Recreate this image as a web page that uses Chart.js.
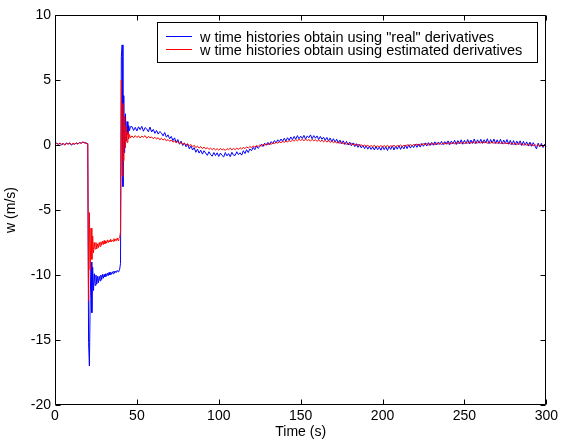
<!DOCTYPE html>
<html>
<head>
<meta charset="utf-8">
<title>w time histories</title>
<script src="https://cdn.jsdelivr.net/npm/chart.js@4.4.1/dist/chart.umd.min.js"></script>
<style>
  html, body { margin: 0; padding: 0; background: #fff; }
  #wChart { display: block; }
</style>
</head>
<body>
<canvas id="wChart" width="561" height="443"></canvas>
<script>
// ============================
// Data
// ============================
const seriesLabels = [
  'w time histories obtain using "real" derivatives',
  "w time histories obtain using estimated derivatives"
];

const xTicks = [0, 50, 100, 150, 200, 250, 300];
const yTicks = [-20, -15, -10, -5, 0, 5, 10];

// sampling grid: 1 s before the manoeuvre, 0.5 s through it, 1 s after
const timePre = [0, 1, 2, 3, 4, 5, 6, 7, 8, 9, 10, 11, 12, 13, 14, 15, 16, 17, 18, 19];
const timeTrans = [];
for (let t = 20; t <= 46; t += 0.5) timeTrans.push(t);
const timePost = [];
for (let t = 47; t <= 300; t++) timePost.push(t);

// "real" derivatives (blue)
const wRealPre = [0.10, 0.14, 0.06, 0.12, 0.02, 0.10, 0.04, 0.14, 0.08, 0.12,
  0.00, 0.10, 0.06, 0.16, 0.10, 0.18, 0.14, 0.22, 0.18, 0.16];
const wRealTrans = [
  0.10, -15.2, -17.0, -11.8, -9.0, -12.9, -9.4, -11.2, -9.9, -10.8,
  -10.0, -10.7, -10.1, -10.6, -10.1, -10.45, -10.0, -10.35, -9.95, -10.25,
  -9.95, -10.15, -9.9, -10.1, -9.85, -10.05, -9.8, -10.0, -9.8, -9.95,
  -9.75, -9.9, -9.7, -9.85, -9.7, -9.8, -9.65, -9.75, -9.7, -9.55,
  -9.1, 6.8, 7.7, -3.2, 3.8, -0.6, 2.4, 0.3, 1.8, 0.8,
  1.5, 1.1, 1.4];
const wRealPost = [
  1.42, 1.12, 1.36,
  1.08, 1.40, 1.18, 1.44, 1.06, 1.34, 1.24, 1.02, 1.38, 1.00,
  1.20, 0.90, 1.12, 0.84, 1.04, 0.92, 0.70, 0.96, 0.60, 0.78,
  0.48, 0.66, 0.34, 0.55, 0.20, 0.42, 0.06, 0.30, -0.04, 0.16,
  -0.14, 0.06, -0.30, -0.08, -0.38, -0.20, -0.56, -0.32, -0.62, -0.40,
  -0.70, -0.44, -0.62, -0.80, -0.52, -0.74, -0.86, -0.58, -0.82, -0.60,
  -0.88, -0.62, -0.80, -0.92, -0.58, -0.84, -0.66, -0.90, -0.56, -0.78,
  -0.80, -0.52, -0.74, -0.60, -0.78, -0.44, -0.66, -0.36, -0.58, -0.30,
  -0.44, -0.18, -0.36, -0.08, -0.26, -0.14, 0.06, -0.12, 0.14, -0.02,
  0.20, 0.02, 0.26, 0.10, 0.34, 0.16, 0.40, 0.24, 0.46, 0.28,
  0.52, 0.30, 0.56, 0.36, 0.62, 0.40, 0.66, 0.44, 0.72, 0.48,
  0.68, 0.50, 0.74, 0.46, 0.70, 0.56, 0.78, 0.48, 0.72, 0.52,
  0.70, 0.42, 0.66, 0.44, 0.60, 0.36, 0.58, 0.30, 0.54, 0.26,
  0.48, 0.22, 0.44, 0.14, 0.38, 0.10, 0.32, 0.04, 0.28, 0.00,
  0.22, -0.06, 0.16, -0.12, 0.10, -0.18, 0.04, -0.22, -0.02, -0.28,
  -0.06, -0.32, -0.10, -0.34, -0.14, -0.38, -0.12, -0.36, -0.16, -0.40,
  -0.10, -0.36, -0.14, -0.42, -0.12, -0.34, -0.06, -0.38, -0.10, -0.32,
  -0.04, -0.34, -0.08, -0.30, -0.02, -0.28, 0.02, -0.24, 0.00, -0.20,
  0.06, -0.18, 0.08, -0.16, 0.12, -0.10, 0.16, -0.08, 0.18, -0.04,
  0.20, -0.02, 0.24, 0.00, 0.22, 0.04, 0.28, 0.02, 0.26, 0.06,
  0.32, 0.02, 0.30, 0.08, 0.36, 0.04, 0.34, 0.10, 0.40, 0.06,
  0.36, 0.10, 0.42, 0.08, 0.38, 0.12, 0.46, 0.10, 0.40, 0.14,
  0.44, 0.12, 0.40, 0.16, 0.48, 0.10, 0.42, 0.14, 0.46, 0.12,
  0.40, 0.10, 0.44, 0.08, 0.38, 0.12, 0.42, 0.06, 0.36, 0.02,
  0.34, 0.00, 0.30, 0.04, 0.32, -0.04, 0.28, -0.02, 0.24, -0.08,
  0.22, -0.10, 0.18, -0.06, -0.30, 0.14, -0.14, 0.12, -0.20, 0.06,
  -0.16];

// estimated derivatives (red)
const wEstPre = [0.08, 0.12, 0.04, 0.16, 0.06, 0.12, -0.02, 0.14, 0.06, 0.18,
  0.02, 0.12, 0.08, 0.14, 0.06, 0.20, 0.12, 0.24, 0.16, 0.12];
const wEstTrans = [
  0.10, -12.0, -5.2, -9.6, -6.4, -8.8, -7.0, -8.3, -7.5, -8.0,
  -7.5, -8.0, -7.6, -7.9, -7.5, -7.8, -7.45, -7.7, -7.4, -7.65,
  -7.35, -7.6, -7.4, -7.55, -7.3, -7.5, -7.35, -7.45, -7.25, -7.45,
  -7.3, -7.4, -7.2, -7.4, -7.25, -7.35, -7.15, -7.35, -7.2, -7.1,
  -6.7, 5.0, -2.4, 3.2, -1.2, 2.2, -0.2, 1.4, 0.2, 1.0,
  0.45, 0.8, 0.55];
const wEstPost = [
  0.70, 0.56, 0.72,
  0.58, 0.70, 0.54, 0.68, 0.60, 0.72, 0.52, 0.66, 0.56, 0.62,
  0.48, 0.60, 0.46, 0.56, 0.40, 0.52, 0.38, 0.48, 0.32, 0.42,
  0.28, 0.38, 0.22, 0.32, 0.16, 0.28, 0.10, 0.20, 0.04, 0.14,
  0.00, 0.10, -0.08, 0.04, -0.14, -0.02, -0.20, -0.08, -0.24, -0.12,
  -0.28, -0.16, -0.30, -0.20, -0.34, -0.24, -0.36, -0.26, -0.38, -0.28,
  -0.40, -0.26, -0.38, -0.30, -0.42, -0.28, -0.36, -0.24, -0.38, -0.26,
  -0.36, -0.24, -0.34, -0.20, -0.32, -0.18, -0.28, -0.14, -0.24, -0.12,
  -0.20, -0.08, -0.16, -0.04, -0.12, 0.00, -0.08, 0.04, -0.02, 0.08,
  0.02, 0.12, 0.06, 0.16, 0.10, 0.20, 0.14, 0.24, 0.18, 0.28,
  0.20, 0.30, 0.24, 0.34, 0.26, 0.38, 0.30, 0.42, 0.32, 0.44,
  0.34, 0.44, 0.32, 0.46, 0.34, 0.42, 0.30, 0.44, 0.32, 0.40,
  0.28, 0.40, 0.26, 0.38, 0.24, 0.36, 0.22, 0.34, 0.20, 0.30,
  0.18, 0.28, 0.14, 0.24, 0.12, 0.22, 0.08, 0.18, 0.06, 0.14,
  0.02, 0.12, 0.00, 0.08, -0.04, 0.06, -0.06, 0.02, -0.10, 0.00,
  -0.10, -0.02, -0.14, -0.04, -0.12, -0.02, -0.16, -0.06, -0.14, -0.04,
  -0.16, -0.04, -0.14, -0.02, -0.16, -0.06, -0.12, -0.02, -0.14, -0.04,
  -0.10, 0.00, -0.12, -0.02, -0.08, 0.02, -0.06, 0.04, -0.06, 0.04,
  -0.02, 0.08, -0.04, 0.08, 0.00, 0.10, 0.02, 0.12, 0.00, 0.12,
  0.04, 0.14, 0.02, 0.14, 0.06, 0.16, 0.04, 0.16, 0.08, 0.18,
  0.06, 0.18, 0.10, 0.20, 0.08, 0.22, 0.10, 0.20, 0.12, 0.24,
  0.10, 0.22, 0.14, 0.24, 0.12, 0.26, 0.14, 0.24, 0.16, 0.26,
  0.14, 0.26, 0.16, 0.24, 0.12, 0.26, 0.14, 0.24, 0.12, 0.22,
  0.12, 0.24, 0.10, 0.22, 0.08, 0.20, 0.08, 0.18, 0.06, 0.18,
  0.04, 0.16, 0.02, 0.14, 0.04, 0.12, 0.00, 0.10, -0.02, 0.08,
  -0.04, 0.06, -0.06, 0.04, -0.08, 0.02, -0.10, 0.00, -0.12, -0.02,
  -0.10];

const time = timePre.concat(timeTrans, timePost);
const wReal = wRealPre.concat(wRealTrans, wRealPost);
const wEst = wEstPre.concat(wEstTrans, wEstPost);

const toPoints = (ys) => time.map((t, i) => ({ x: t, y: ys[i] }));

const FONT = "Liberation Sans, Arial, sans-serif";

// ============================
// Matlab style box, inward ticks and legend
// ============================
const matlabFrame = {
  id: "matlabFrame",
  afterDatasetsDraw(chart) {
    const { ctx, chartArea: a, scales } = chart;
    const L = Math.round(a.left) + 0.5, R = Math.round(a.right) - 0.5;
    const T = Math.round(a.top) + 0.5, B = Math.round(a.bottom) - 0.5;
    const len = 5;
    ctx.save();
    ctx.strokeStyle = "#000";
    ctx.lineWidth = 1;
    ctx.beginPath();
    ctx.rect(L, T, R - L, B - T);
    xTicks.forEach(v => {
      const px = Math.round(scales.x.getPixelForValue(v)) + 0.5;
      ctx.moveTo(px, B); ctx.lineTo(px, B - len);
      ctx.moveTo(px, T); ctx.lineTo(px, T + len);
    });
    yTicks.forEach(v => {
      const py = Math.round(scales.y.getPixelForValue(v)) + 0.5;
      ctx.moveTo(L, py); ctx.lineTo(L + len, py);
      ctx.moveTo(R, py); ctx.lineTo(R - len, py);
    });
    ctx.stroke();
    ctx.restore();
  },
  afterDraw(chart) {
    const { ctx } = chart;
    // legend box, placed as in the figure
    const bx = 157.5, by = 22.5, bw = 380, bh = 40;
    ctx.save();
    ctx.fillStyle = "#fff";
    ctx.fillRect(bx, by, bw, bh);
    ctx.strokeStyle = "#000";
    ctx.lineWidth = 1;
    ctx.strokeRect(bx, by, bw, bh);
    ctx.font = "14.5px " + FONT;
    ctx.textBaseline = "middle";
    ctx.fillStyle = "#000";
    chart.data.datasets.forEach((ds, i) => {
      const y = Math.round(by + 13 + i * 13) + 0.5;
      ctx.strokeStyle = ds.borderColor;
      ctx.beginPath();
      ctx.moveTo(166, y);
      ctx.lineTo(192, y);
      ctx.stroke();
      ctx.fillText(ds.label, 200, y + 1);
    });
    ctx.restore();
  }
};

new Chart(document.getElementById("wChart").getContext("2d"), {
  type: "line",
  data: {
    datasets: [{
      label: seriesLabels[0],
      data: toPoints(wReal),
      borderColor: "#0000ff",
      borderWidth: 1,
      pointRadius: 0,
      tension: 0,
      order: 1
    }, {
      label: seriesLabels[1],
      data: toPoints(wEst),
      borderColor: "#ff0000",
      borderWidth: 1,
      pointRadius: 0,
      tension: 0,
      order: 0
    }]
  },
  options: {
    responsive: false,
    animation: false,
    layout: { padding: { top: 15, right: 14, left: 0, bottom: 0 } },
    plugins: {
      legend: { display: false },
      tooltip: { enabled: false }
    },
    scales: {
      x: {
        type: "linear",
        min: 0,
        max: 300,
        afterBuildTicks: (scale) => { scale.ticks = xTicks.map(v => ({ value: v })); },
        afterFit: (scale) => { scale.height = 38; },
        grid: { display: false, drawTicks: false },
        border: { display: false },
        ticks: { padding: 3, color: "#000", font: { family: FONT, size: 14 } },
        title: {
          display: true,
          text: "Time (s)",
          color: "#000",
          font: { family: FONT, size: 14 },
          padding: { top: 0, bottom: 2 }
        }
      },
      y: {
        type: "linear",
        min: -20,
        max: 10,
        afterBuildTicks: (scale) => { scale.ticks = yTicks.map(v => ({ value: v })); },
        afterFit: (scale) => { scale.width = 55; },
        grid: { display: false, drawTicks: false },
        border: { display: false },
        ticks: { padding: 4, color: "#000", font: { family: FONT, size: 14 } },
        title: {
          display: true,
          text: "w (m/s)",
          color: "#000",
          font: { family: FONT, size: 14 },
          padding: { top: 3, bottom: 0 }
        }
      }
    }
  },
  plugins: [matlabFrame]
});
</script>
</body>
</html>
